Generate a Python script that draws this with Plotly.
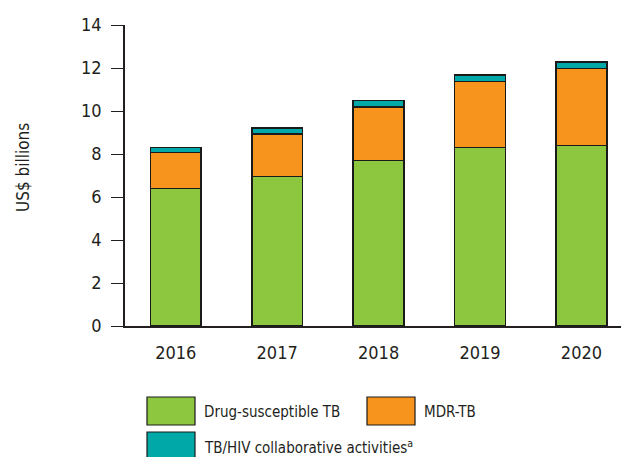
import plotly.graph_objects as go

years = ["2016", "2017", "2018", "2019", "2020"]
drug_susceptible = [6.4, 6.95, 7.7, 8.3, 8.4]
mdr_tb = [1.68, 1.97, 2.48, 3.07, 3.58]
tb_hiv = [0.22, 0.28, 0.3, 0.31, 0.3]

names = ["Drug-susceptible TB", "MDR-TB", "TB/HIV collaborative activities<sup>a</sup>"]
colors = ["#8DC63F", "#F7941D", "#00A8A8"]
series = [drug_susceptible, mdr_tb, tb_hiv]

W, H = 621, 457
L, R, T, B = 125, 621, 25, 326
FONT = "DejaVu Sans Condensed, Liberation Sans Narrow, Roboto, sans-serif"
TXT = "#231F20"

fig = go.Figure()
for n, c, v in zip(names, colors, series):
    fig.add_trace(go.Bar(x=years, y=v, name=n, marker=dict(color=c, line=dict(color="#1A1A1A", width=1.5)),
                         showlegend=False))

def px_x(p):
    return (p - L) / (R - L)

def px_y(q):
    return (B - q) / (B - T)

shapes = []
annotations = []
legend_items = [
    (147, 397, 0),
    (367, 397, 1),
    (147, 432, 2),
]
for x0, y0, i in legend_items:
    shapes.append(dict(type="rect", xref="paper", yref="paper",
                       x0=px_x(x0), x1=px_x(x0 + 48), y0=px_y(y0), y1=px_y(y0 + 28),
                       fillcolor=colors[i], line=dict(color="#1A1A1A", width=1.2)))
    annotations.append(dict(xref="paper", yref="paper", x=px_x(x0 + 55), y=px_y(y0 + 15),
                            text=names[i], showarrow=False, xanchor="left", yanchor="middle",
                            font=dict(family=FONT, size=15, color=TXT)))

annotations.append(dict(xref="paper", yref="paper", x=px_x(23), y=px_y(168), text="US$ billions",
                        textangle=-90, showarrow=False, xanchor="center", yanchor="middle",
                        font=dict(family=FONT, size=17, color=TXT)))

fig.update_layout(
    width=W, height=H,
    margin=dict(l=L, r=W - R, t=T, b=H - B, autoexpand=False),
    plot_bgcolor="white", paper_bgcolor="white",
    barmode="stack", bargap=0.5,
    font=dict(family=FONT, size=18, color=TXT),
    shapes=shapes, annotations=annotations,
    xaxis=dict(range=[-0.5, 4.39], showline=True, linecolor="#231F20", linewidth=1.5, automargin=False,
               ticks="", showgrid=False, tickfont=dict(size=18), ticklabelstandoff=10),
    yaxis=dict(range=[0, 14], dtick=2, showline=True, linecolor="#231F20", linewidth=1.5, automargin=False,
               ticks="outside", ticklen=12, tickwidth=1.2, tickcolor="#231F20",
               showgrid=False, zeroline=False, tickfont=dict(size=18), ticklabelstandoff=6),
)

fig.write_html("out.html", post_script="document.body.style.margin='0';",
               config={"displayModeBar": False})
